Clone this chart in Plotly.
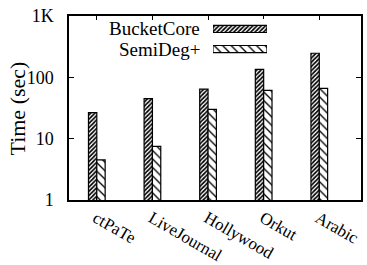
import plotly.graph_objects as go

categories = ["ctPaTe", "LiveJournal", "Hollywood", "Orkut", "Arabic"]
series_names = ["BucketCore", "SemiDeg+"]
bucketcore = [26.5, 45, 64, 135, 247]
semideg = [4.5, 7.5, 30, 61.5, 66]
y_tickvals = [1, 10, 100, 1000]
y_ticktext = ["1", "10", "100", "1K"]

FONT = "Liberation Serif"
patterns = [dict(shape="/", size=3, solidity=0.55, fgcolor="black", bgcolor="white", fillmode="replace"),
            dict(shape="\\", size=6, solidity=0.22, fgcolor="black", bgcolor="white", fillmode="replace")]

xs = list(range(len(categories)))
fig = go.Figure()
for name, vals, pat in zip(series_names, [bucketcore, semideg], patterns):
    fig.add_trace(go.Bar(x=xs, y=vals, name=name, showlegend=False,
                         marker=dict(color="white", pattern=pat, line=dict(color="black", width=1.2))))

# legend drawn as key bars on an auxiliary axis pair
leg_pos = [1, 0]
for name, pat, pos in zip(series_names, patterns, leg_pos):
    fig.add_trace(go.Bar(x=[1], y=[pos], orientation="h", xaxis="x2", yaxis="y2", width=0.35,
                         showlegend=False, hoverinfo="skip",
                         marker=dict(color="white", pattern=pat, line=dict(color="black", width=1.2))))
    fig.add_annotation(x=0, y=pos, xref="x2", yref="y2", text=name, showarrow=False,
                       xanchor="right", yanchor="middle", xshift=-11,
                       font=dict(family=FONT, size=19, color="black"))

fig.update_layout(
    width=367, height=265,
    margin=dict(l=69, r=6, t=16, b=65),
    paper_bgcolor="white", plot_bgcolor="white",
    barmode="group", bargap=0.7, bargroupgap=0,
    font=dict(family=FONT, size=18, color="black"),
    xaxis=dict(range=[-0.5, 4.75], tickvals=xs, ticktext=categories, tickangle=30,
               ticks="inside", ticklen=4, tickcolor="black", showline=True, linecolor="black",
               linewidth=1.5, mirror="ticks", showgrid=False, zeroline=False, automargin=False,
               ticklabelshift=-1, ticklabelstandoff=0,
               tickfont=dict(family=FONT, size=17)),
    yaxis=dict(type="log", range=[0, 3], tickvals=y_tickvals, ticktext=y_ticktext,
               ticks="inside", ticklen=5, tickcolor="black", showline=True, linecolor="black",
               linewidth=1.5, mirror="ticks", showgrid=False, zeroline=False, automargin=False,
               ticklabelstandoff=10, tickfont=dict(family=FONT, size=18)),
    xaxis2=dict(domain=[0.493, 0.678], range=[0, 1], visible=False, anchor="y2"),
    yaxis2=dict(domain=[0.766, 0.984], range=[-0.5, 1.5], visible=False, anchor="x2"),
)
fig.add_annotation(x=-0.176, y=0.495, xref="paper", yref="paper", text="Time (sec)",
                   showarrow=False, textangle=-90, xanchor="center", yanchor="middle",
                   font=dict(family=FONT, size=22, color="black"))

fig.write_html("out.html", config={"displayModeBar": False},
               post_script="document.body.style.margin='0';")
